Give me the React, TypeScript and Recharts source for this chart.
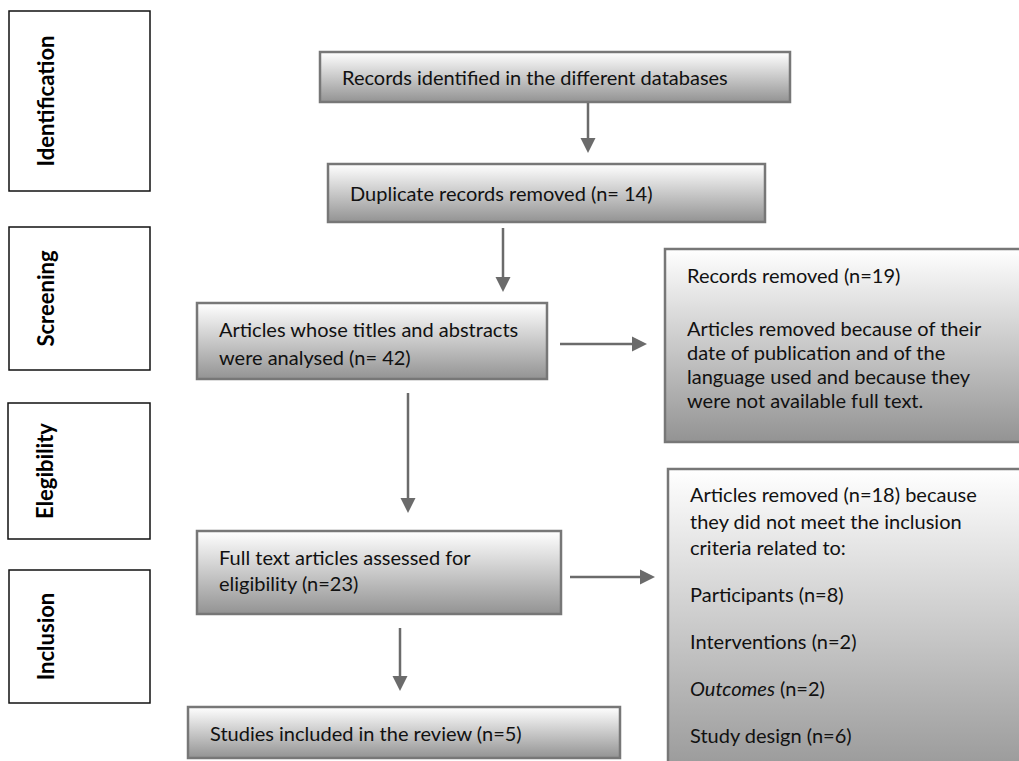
import { ComposedChart, XAxis, YAxis, ReferenceArea, ReferenceLine } from "recharts";

const W = 1019;
const H = 761;

// PRISMA stages and counts
const stages = ["Identification", "Screening", "Elegibility", "Inclusion"];
const duplicates = 14;
const screened = 42;
const removedScreening = 19;
const assessed = 23;
const removedFullText = 18;
const included = 5;
const reasons = ["Participants", "Interventions", "Outcomes", "Study design"];
const reasonCounts = [8, 2, 2, 6];
const italicTerms = ["Outcomes"];

// layout, in axis units (same as pixels)
const stageLayout = [
  { x1: 9, x2: 150, y1: 11, y2: 191 },
  { x1: 9, x2: 150, y1: 227, y2: 370 },
  { x1: 8, x2: 150, y1: 403, y2: 539 },
  { x1: 9, x2: 150, y1: 570, y2: 703 },
];

const flowTexts: string[][] = [
  ["Records identified in the different databases"],
  [`Duplicate records removed (n= ${duplicates})`],
  ["Articles whose titles and abstracts", `were analysed (n= ${screened})`],
  [
    `Records removed (n=${removedScreening})`,
    "",
    "Articles removed because of their",
    "date of publication and of the",
    "language used and because they",
    "were not available full text.",
  ],
  ["Full text articles assessed for", `eligibility (n=${assessed})`],
  [
    `Articles removed (n=${removedFullText}) because`,
    "they did not meet the inclusion",
    "criteria related to:",
    ...reasons.flatMap((r, i) => ["", `${r} (n=${reasonCounts[i]})`]),
  ],
  [`Studies included in the review (n=${included})`],
];

const flowLayout = [
  { x1: 320, x2: 790, y1: 52, y2: 102, first: null, lh: 0, gap: 0 },
  { x1: 328, x2: 765, y1: 164, y2: 222, first: null, lh: 0, gap: 0 },
  { x1: 197, x2: 547, y1: 303, y2: 379, first: 26, lh: 28, gap: 0 },
  { x1: 665, x2: 1030, y1: 249, y2: 442, first: 26, lh: 24, gap: 29 },
  { x1: 197, x2: 561, y1: 531, y2: 614, first: 26, lh: 26, gap: 0 },
  { x1: 668, x2: 1030, y1: 469, y2: 790, first: 25, lh: 26.5, gap: 20.5 },
  { x1: 188, x2: 620, y1: 707, y2: 758, first: null, lh: 0, gap: 0 },
];

const arrows = [
  { x1: 588, y1: 103, x2: 588, y2: 153 },
  { x1: 503, y1: 228, x2: 503, y2: 292 },
  { x1: 560, y1: 344, x2: 647, y2: 344 },
  { x1: 408, y1: 393, x2: 408, y2: 513 },
  { x1: 570, y1: 577, x2: 655, y2: 577 },
  { x1: 400, y1: 628, x2: 400, y2: 691 },
];

const FONT = "Lato, 'Open Sans', sans-serif";
const ARROW = "#6b6b6b";

const renderLine = (line: string) => {
  const term = italicTerms.find((t) => line.startsWith(t));
  if (!term) return line;
  return (
    <>
      <tspan fontStyle="italic">{term}</tspan>
      <tspan>{line.slice(term.length)}</tspan>
    </>
  );
};

const flowShape = (idx: number) => (p: any) => {
  const { x, y, width, height } = p;
  const lay = flowLayout[idx];
  const lines = flowTexts[idx];
  let cy = lay.first == null ? y + height / 2 : y + lay.first;
  const out: any[] = [];
  lines.forEach((ln, i) => {
    if (ln === "") {
      cy += lay.gap;
      return;
    }
    out.push(
      <text
        key={i}
        x={x + 22}
        y={cy}
        dominantBaseline="central"
        fontFamily={FONT}
        fontSize={20}
        fill="#111"
      >
        {renderLine(ln)}
      </text>
    );
    cy += lay.lh;
  });
  return (
    <g>
      <rect x={x} y={y} width={width} height={height} fill="url(#boxGrad)" stroke="#777" strokeWidth={2.5} />
      {out}
    </g>
  );
};

const stageShape = (idx: number) => (p: any) => {
  const { x, y, width, height } = p;
  const cx = x + 36;
  const cy = y + height / 2;
  return (
    <g>
      <rect x={x} y={y} width={width} height={height} fill="#fff" stroke="#111" strokeWidth={1.5} />
      <text
        x={cx}
        y={cy}
        transform={`rotate(-90 ${cx} ${cy})`}
        textAnchor="middle"
        dominantBaseline="central"
        fontFamily={FONT}
        fontWeight="bold"
        fontSize={22}
        fill="#000"
      >
        {stages[idx]}
      </text>
    </g>
  );
};

const arrowShape = (p: any) => {
  const { x1, y1, x2, y2 } = p;
  const dx = x2 - x1;
  const dy = y2 - y1;
  const len = Math.sqrt(dx * dx + dy * dy) || 1;
  const ux = dx / len;
  const uy = dy / len;
  const head = 15;
  const half = 7.5;
  const bx = x2 - ux * head;
  const by = y2 - uy * head;
  return (
    <g>
      <line x1={x1} y1={y1} x2={bx} y2={by} stroke={ARROW} strokeWidth={2.5} />
      <polygon
        points={`${x2},${y2} ${bx - uy * half},${by + ux * half} ${bx + uy * half},${by - ux * half}`}
        fill={ARROW}
      />
    </g>
  );
};

export default function App() {
  return (
    <div style={{ position: "absolute", left: 0, top: 0, width: W, height: H, background: "#fff" }}>
      <ComposedChart
        width={W}
        height={H}
        data={[{ x: 0, y: 0 }, { x: W, y: H }]}
        margin={{ top: 0, right: 0, bottom: 0, left: 0 }}
      >
        <defs>
          <linearGradient id="boxGrad" x1="0" y1="0" x2="0" y2="1">
            <stop offset="0%" stopColor="#ffffff" />
            <stop offset="100%" stopColor="#939393" />
          </linearGradient>
        </defs>
        <XAxis type="number" dataKey="x" domain={[0, W]} hide />
        <YAxis type="number" dataKey="y" domain={[0, H]} reversed hide />
        {stageLayout.map((s, i) => (
          <ReferenceArea
            key={`stage-${i}`}
            x1={s.x1}
            x2={s.x2}
            y1={s.y1}
            y2={s.y2}
            ifOverflow="visible"
            shape={stageShape(i)}
          />
        ))}
        {flowLayout.map((b, i) => (
          <ReferenceArea
            key={`box-${i}`}
            x1={b.x1}
            x2={b.x2}
            y1={b.y1}
            y2={b.y2}
            ifOverflow="visible"
            shape={flowShape(i)}
          />
        ))}
        {arrows.map((a, i) => (
          <ReferenceLine
            key={`arrow-${i}`}
            segment={[
              { x: a.x1, y: a.y1 },
              { x: a.x2, y: a.y2 },
            ]}
            ifOverflow="visible"
            shape={arrowShape}
          />
        ))}
      </ComposedChart>
    </div>
  );
}
